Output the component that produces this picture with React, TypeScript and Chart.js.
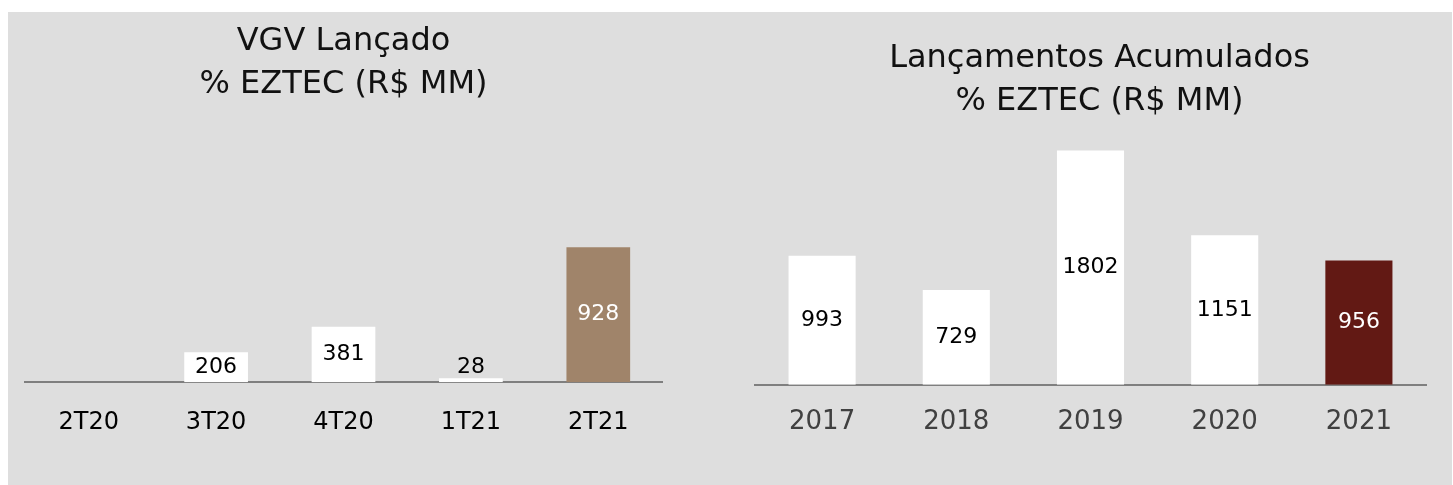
import React, { useEffect, useRef } from "react";
import { Chart, registerables } from "chart.js";

Chart.register(...registerables);

// ---- Data ----
const quarterLabels = ["2T20", "3T20", "4T20", "1T21", "2T21"];
const quarterValues = [0, 206, 381, 28, 928];
const quarterColors = ["#ffffff", "#ffffff", "#ffffff", "#ffffff", "#a0846a"];
const quarterTitle = ["VGV Lançado", "% EZTEC (R$ MM)"];

const yearLabels = ["2017", "2018", "2019", "2020", "2021"];
const yearValues = [993, 729, 1802, 1151, 956];
const yearColors = ["#ffffff", "#ffffff", "#ffffff", "#ffffff", "#621914"];
const yearTitle = ["Lançamentos Acumulados", "% EZTEC (R$ MM)"];

const FONT = "'DejaVu Sans', 'Noto Sans', sans-serif";

const valueLabelPlugin = {
  id: "valueLabels",
  afterDatasetsDraw(chart: any) {
    const ctx = chart.ctx;
    const ds = chart.data.datasets[0];
    const meta = chart.getDatasetMeta(0);
    ctx.save();
    ctx.font = `22px ${FONT}`;
    ctx.textAlign = "center";
    ctx.textBaseline = "middle";
    meta.data.forEach((bar: any, i: number) => {
      const v = ds.data[i];
      if (!v) return;
      const { x, y, base } = bar.getProps(["x", "y", "base"], true);
      const center = (y + base) / 2;
      const ly = Math.min(center, base - 15);
      const bg = ds.backgroundColor[i];
      ctx.fillStyle = bg === "#ffffff" ? "#000000" : "#ffffff";
      ctx.fillText(String(v), x, ly);
    });
    ctx.restore();
  },
};

type PanelProps = {
  labels: string[];
  values: number[];
  colors: string[];
  title: string[];
  width: number;
  height: number;
  left: number;
  yMax: number;
  pad: { left: number; right: number; bottom: number };
  rightGap: number;
  titleTop: number;
  tickSize: number;
  tickPad: number;
  tickColor: string;
};

function BarPanel(p: PanelProps) {
  const ref = useRef<HTMLCanvasElement | null>(null);
  useEffect(() => {
    if (!ref.current) return;
    const chart = new Chart(ref.current, {
      type: "bar",
      data: {
        labels: p.labels,
        datasets: [
          {
            data: p.values,
            backgroundColor: p.colors,
            borderWidth: 0,
            barPercentage: 0.5,
            categoryPercentage: 1.0,
          },
        ],
      },
      options: {
        responsive: false,
        animation: false,
        layout: {
          padding: { left: p.pad.left, right: p.pad.right, top: 0, bottom: p.pad.bottom },
        },
        plugins: {
          legend: { display: false },
          tooltip: { enabled: false },
          title: {
            display: true,
            text: p.title,
            color: "#111111",
            font: { family: FONT, size: 32, weight: "normal", lineHeight: 43 / 32 },
            padding: { top: p.titleTop, bottom: 0 },
          },
        },
        scales: {
          x: {
            grid: { display: false, drawTicks: false },
            border: { display: true, color: "#7f7f7f", width: 2 },
            ticks: {
              color: p.tickColor,
              padding: p.tickPad,
              font: { family: FONT, size: p.tickSize },
              maxRotation: 0,
            },
          },
          y: {
            display: p.rightGap > 0,
            position: "right",
            min: 0,
            max: p.yMax,
            grid: { display: false, drawTicks: false },
            border: { display: false },
            ticks: { display: false },
            afterFit: (s: any) => {
              s.width = p.rightGap;
            },
          },
        },
      },
      plugins: [valueLabelPlugin],
    } as any);
    return () => chart.destroy();
  }, []);
  return (
    <div style={{ position: "absolute", left: p.left, top: 0, width: p.width, height: p.height }}>
      <canvas ref={ref} width={p.width} height={p.height} style={{ display: "block" }} />
    </div>
  );
}

export default function App() {
  return (
    <div
      style={{
        position: "fixed",
        left: 8,
        top: 12,
        width: 1444,
        height: 473,
        background: "#dedede",
        overflow: "hidden",
      }}
    >
      <BarPanel
        labels={quarterLabels}
        values={quarterValues}
        colors={quarterColors}
        title={quarterTitle}
        width={712}
        height={473}
        left={0}
        yMax={1897}
        pad={{ left: 17, right: 58, bottom: 22 }}
        rightGap={0}
        titleTop={8.5}
        tickSize={24}
        tickPad={26}
        tickColor="#000000"
      />
      <BarPanel
        labels={yearLabels}
        values={yearValues}
        colors={yearColors}
        title={yearTitle}
        width={732}
        height={473}
        left={712}
        yMax={2010}
        pad={{ left: 35, right: 8, bottom: 25 }}
        rightGap={18}
        titleTop={25.5}
        tickSize={26}
        tickPad={22}
        tickColor="#404040"
      />
    </div>
  );
}
